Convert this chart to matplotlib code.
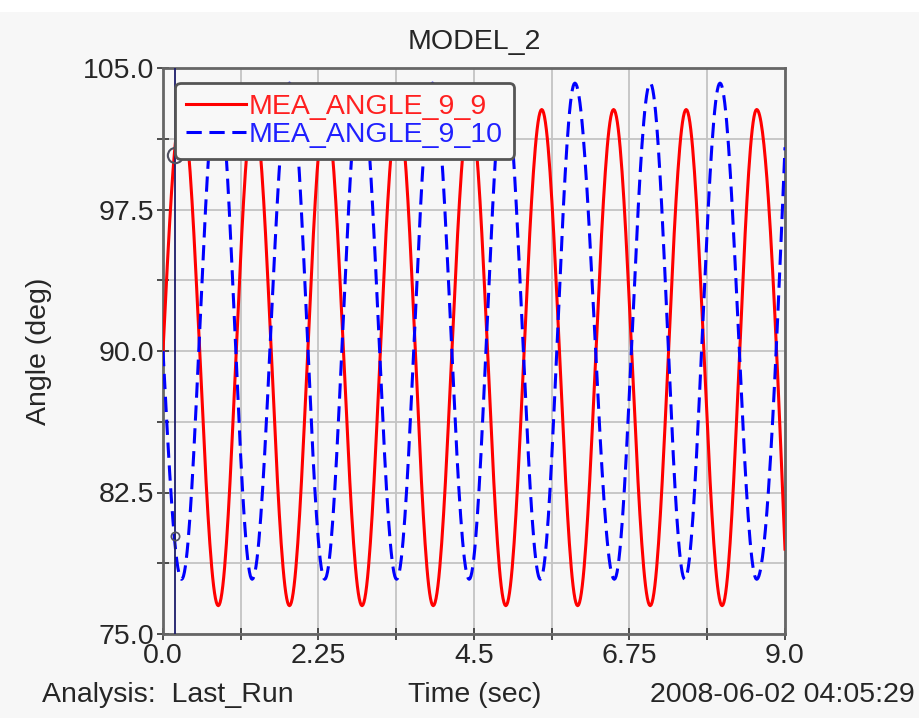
import numpy as np
import matplotlib
matplotlib.use("Agg")
import matplotlib.pyplot as plt
from matplotlib.patches import Rectangle

plt.rcParams['font.family'] = ['Liberation Sans', 'DejaVu Sans']

# extrema (time in s, angle in deg)
red_t = [0.0, 0.27, 0.80, 1.31, 1.83, 2.35, 2.88, 3.40, 3.91, 4.44, 4.96,
         5.48, 6.00, 6.52, 7.05, 7.57, 8.09, 8.59, 9.0]
red_v = [90.0, 102.8, 76.5, 102.8, 76.5, 102.8, 76.5, 102.8, 76.5, 102.8, 76.5,
         102.8, 76.5, 102.8, 76.5, 102.8, 76.5, 102.8, 79.5]
blue_t = [0.0, 0.27, 0.79, 1.29, 1.83, 2.34, 2.86, 3.38, 3.90, 4.43, 4.94,
          5.46, 5.96, 6.53, 7.05, 7.55, 8.06, 8.59, 9.0]
blue_v = [90.0, 77.9, 104.2, 77.9, 104.2, 77.9, 104.2, 77.9, 104.2, 77.9, 104.2,
          77.9, 104.2, 77.9, 104.2, 77.9, 104.2, 77.9, 100.8]

cursor_t = 0.17
cursor_v = [100.4, 80.2]

x_ticks = [0.0, 2.25, 4.5, 6.75, 9.0]
x_labels = ['0.0', '2.25', '4.5', '6.75', '9.0']
y_ticks = [75.0, 82.5, 90.0, 97.5, 105.0]
y_labels = ['75.0', '82.5', '90.0', '97.5', '105.0']


def smooth(ts, vs, n=40):
    # draw the trace through the read extrema with rounded (cosine) segments
    xs, ys = [], []
    last = len(ts) - 2
    for i in range(len(ts) - 1):
        s = np.linspace(0, 1, n)
        if i == 0:
            w = np.sin(np.pi / 2 * s)
        elif i == last:
            w = 1 - np.cos(np.pi / 2 * s)
        else:
            w = (1 - np.cos(np.pi * s)) / 2
        xs.append(ts[i] + (ts[i + 1] - ts[i]) * s)
        ys.append(vs[i] + (vs[i + 1] - vs[i]) * w)
    return np.concatenate(xs), np.concatenate(ys)


bg = '#f7f7f7'
txt_c = '#262626'
fs = 20.5
fig = plt.figure(figsize=(9.2, 7.18), dpi=100, facecolor=bg)
fig.patches.append(Rectangle((0, 1 - 12 / 718), 1, 12 / 718, transform=fig.transFigure,
                             facecolor='white', edgecolor='none', zorder=0))
ax = fig.add_axes([163 / 920, 84 / 718, 622 / 920, 566 / 718], facecolor=bg)

rx, ry = smooth(red_t, red_v)
bx, by = smooth(blue_t, blue_v)
ax.plot(rx, ry, color='#ff0000', lw=2.2, label='MEA_ANGLE_9_9', zorder=3)
ax.plot(bx, by, color='#0000ff', lw=2.2, ls=(0, (5, 2.5)), label='MEA_ANGLE_9_10', zorder=3)

# cursor
ax.axvline(cursor_t, color='#1c1c6a', lw=1.3, zorder=4)
ax.plot([cursor_t], [cursor_v[0]], 'o', ms=11, mfc='none', mec='#505060', mew=1.5, zorder=5)
ax.plot([cursor_t], [cursor_v[1]], 'o', ms=6, mfc='none', mec='#505060', mew=1.2, zorder=5)

ax.set_xlim(0, 9)
ax.set_ylim(75, 105)
ax.set_xticks(x_ticks)
ax.set_xticklabels(x_labels)
ax.set_yticks(y_ticks)
ax.set_yticklabels(y_labels)
ax.set_xticks(np.arange(0, 9.01, 1.125), minor=True)
ax.set_yticks(np.arange(75, 105.01, 3.75), minor=True)
ax.grid(True, which='both', color='#c4c4c4', lw=1.3)
ax.set_axisbelow(True)
ax.tick_params(which='both', direction='inout', length=9, width=1.3, color='#404040',
               labelsize=fs, labelcolor=txt_c, pad=2)
for sp in ax.spines.values():
    sp.set_color('#666666')
    sp.set_linewidth(2)

ax.set_title('MODEL_2', fontsize=fs, color=txt_c, pad=14)
ax.set_ylabel('Angle (deg)', fontsize=fs, color=txt_c, labelpad=22)

fig.text(42 / 920, 1 - 695 / 718, 'Analysis:  Last_Run', fontsize=fs, color=txt_c, va='center')
fig.text(475 / 920, 1 - 695 / 718, 'Time (sec)', fontsize=fs, color=txt_c, va='center', ha='center')
fig.text(915 / 920, 1 - 695 / 718, '2008-06-02 04:05:29', fontsize=fs, color=txt_c,
         va='center', ha='right')

leg = ax.legend(loc='upper left', bbox_to_anchor=(0.019, 0.974), fontsize=fs,
                frameon=True, fancybox=True, handlelength=2.1, handletextpad=0.1,
                borderpad=0.4, labelspacing=0.05, borderaxespad=0)
leg.get_frame().set_facecolor('#f8f8f8')
leg.get_frame().set_edgecolor('#555555')
leg.get_frame().set_linewidth(2)
leg.get_frame().set_alpha(1)
for txt, c in zip(leg.get_texts(), ['#ff2020', '#2020ff']):
    txt.set_color(c)

fig.savefig('out.png', dpi=100, facecolor=bg)
